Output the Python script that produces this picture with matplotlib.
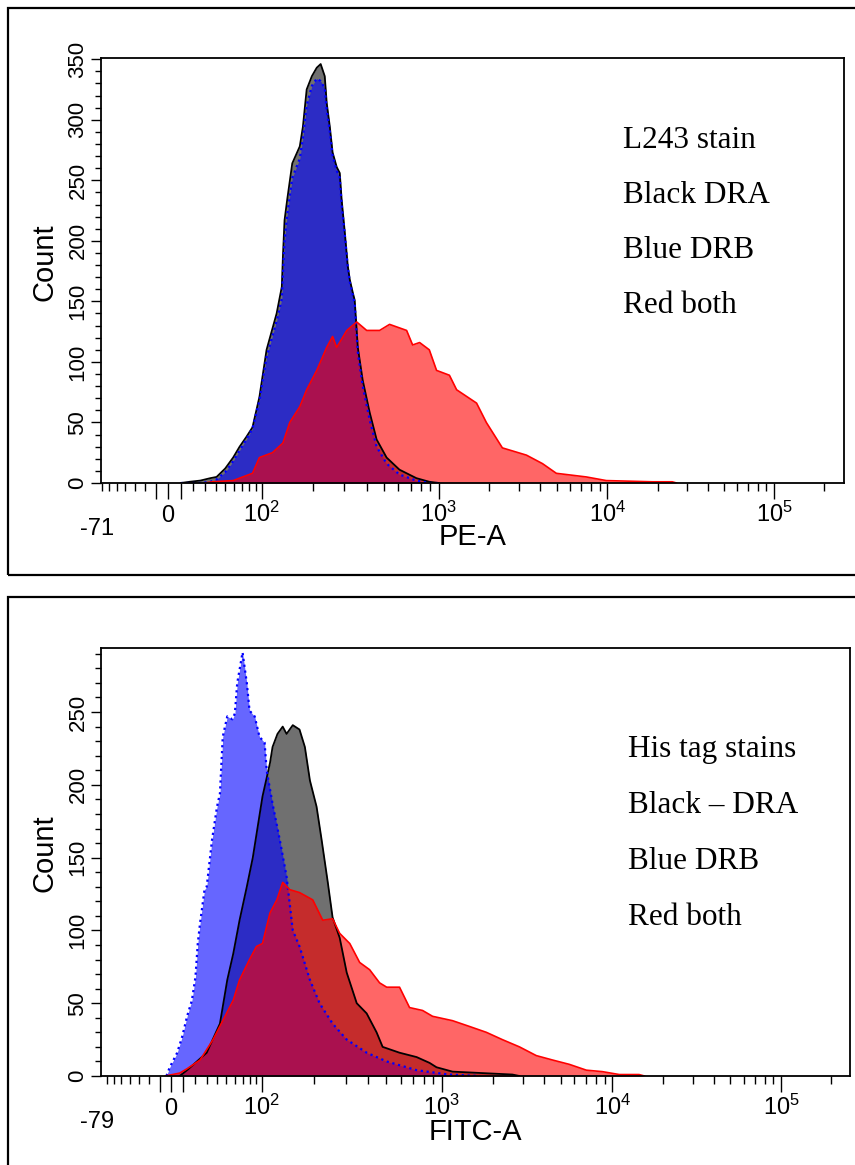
import numpy as np
import matplotlib
matplotlib.use('Agg')
import matplotlib.pyplot as plt
from matplotlib.patches import Rectangle

plt.rcParams['font.family'] = ['Liberation Sans', 'DejaVu Sans']
plt.rcParams['mathtext.default'] = 'regular'

# top panel, PE-A (L243 stain)
pe_dra_x = [10, 17, 26, 35, 41, 50, 59, 67, 76, 85, 96, 107, 123, 132, 134, 137, 142, 152, 168, 175,
            184, 197, 210, 221, 233, 239, 249, 258, 272, 283, 290, 302, 314, 322, 335, 343, 357, 380, 416, 454,
            516, 608, 754, 889, 1000]
pe_dra_y = [0, 1, 2, 4, 5, 12, 21, 30, 38, 46, 71, 110, 140, 162, 187, 217, 234, 264, 278, 294,
            325, 336, 343, 346, 336, 314, 294, 273, 261, 256, 234, 207, 179, 168, 157, 151, 112, 85, 58, 36,
            21, 11, 4, 1, 0]
pe_drb_x = pe_dra_x
pe_drb_y = [0, 0, 0, 1, 3, 9, 18, 27, 36, 45, 68, 104, 134, 152, 172, 200, 222, 252, 268, 285,
            312, 328, 334, 332, 326, 308, 290, 270, 258, 252, 230, 205, 178, 166, 155, 148, 108, 80, 52, 30,
            16, 7, 2, 0, 0]
pe_both_x = [30, 37, 59, 85, 96, 116, 134, 147, 168, 184, 210, 239, 258, 272, 310, 352, 400, 472, 536, 666,
             719, 786, 889, 975, 1160, 1280, 1680, 1920, 2390, 3320, 4130, 4990, 7510, 9860, 18600, 24500, 26000]
pe_both_y = [0, 1, 2, 8, 21, 25, 33, 50, 63, 77, 93, 112, 121, 112, 126, 133, 126, 126, 131, 126,
             114, 116, 110, 93, 89, 77, 66, 50, 29, 23, 16, 8, 5, 2, 1, 1, 0]

# bottom panel, FITC-A (His tag stains)
fitc_dra_x = [7, 13, 30, 43, 51, 58, 66, 76, 85, 101, 112, 116, 124, 133, 140, 152, 166, 178, 190, 207,
              221, 239, 254, 278, 304, 345, 391, 443, 478, 591, 732, 861, 939, 1160, 2600, 2860]
fitc_dra_y = [0, 4, 16, 36, 66, 84, 107, 130, 150, 192, 215, 226, 235, 240, 235, 241, 238, 226, 203, 185,
              162, 133, 109, 95, 71, 50, 43, 30, 20, 16, 13, 9, 6, 3, 1, 0]
fitc_drb_x = [-4, -1, 5, 9, 13, 17, 20, 22, 24, 28, 30, 35, 40, 43, 46, 51, 57, 60, 63, 66,
              70, 76, 80, 88, 96, 104, 107, 116, 128, 140, 152, 166, 190, 215, 254, 304, 391, 503, 732, 1100,
              1670]
fitc_drb_y = [0, 6, 16, 27, 41, 52, 68, 91, 105, 128, 130, 162, 185, 194, 233, 247, 245, 249, 270, 279,
              291, 270, 251, 247, 233, 229, 210, 187, 162, 137, 100, 89, 66, 50, 36, 25, 16, 10, 4, 1,
              0]
fitc_both_x = [-5, 7, 13, 24, 36, 46, 58, 66, 80, 91, 101, 112, 123, 133, 146, 166, 197, 224, 254, 278,
               316, 358, 406, 460, 503, 591, 670, 789, 894, 1160, 1460, 1830, 2270, 2860, 3590, 4460, 5600, 7050, 8740, 11000,
               14400, 15500]
fitc_both_y = [0, 2, 5, 11, 25, 38, 52, 66, 80, 89, 91, 112, 121, 133, 128, 126, 121, 107, 108, 98,
               91, 78, 73, 64, 61, 61, 47, 45, 41, 38, 34, 30, 25, 20, 14, 11, 8, 4, 3, 1,
               1, 0]

pe_notes = ['L243 stain', 'Black DRA', 'Blue DRB', 'Red both']
fitc_notes = ['His tag stains', 'Black \u2013 DRA', 'Blue DRB', 'Red both']

major_x = [-10, 0, 10, 100, 1000, 10000, 100000]
major_lbl = ['', '0', '', '$10^{2}$', '$10^{3}$', '$10^{4}$', '$10^{5}$']
minor_x = (list(range(-70, -10, 10)) + list(range(20, 100, 10)) + list(range(200, 1000, 100))
           + list(range(2000, 10000, 1000)) + list(range(20000, 100000, 10000)) + [200000])


def biex(vals, pos, w=50.0):
    # rough biexponential display: asinh space, pinned to the tick positions
    g = np.arcsinh(np.asarray(vals, float) / w)
    p = np.asarray(pos, float)

    def lin(x, xp, fp):
        x = np.asarray(x, float)
        y = np.interp(x, xp, fp)
        y = np.where(x < xp[0], fp[0] + (x - xp[0]) * (fp[1] - fp[0]) / (xp[1] - xp[0]), y)
        y = np.where(x > xp[-1], fp[-1] + (x - xp[-1]) * (fp[-1] - fp[-2]) / (xp[-1] - xp[-2]), y)
        return y

    fwd = lambda x: lin(np.arcsinh(np.asarray(x, float) / w), g, p)
    inv = lambda q: w * np.sinh(lin(q, p, g))
    return fwd, inv


def hist(ax, x, y, color, alpha, ls, lw):
    ax.fill_between(x, y, 0, color=color, alpha=alpha, lw=0)
    ax.plot(x, y, color=color, ls=ls, lw=lw)


def panel(ax, xmin, anchors, ymax, ymaj, ymin_step, series, notes, note_y, xlabel, label_y):
    fwd, inv = biex([xmin, 0, 100, 1000, 1e4, 1e5, 262144], anchors)
    ax.set_xscale('function', functions=(fwd, inv))
    ax.set_xlim(xmin, 262144)
    ax.set_ylim(0, ymax)

    (ax_, ay_), (bx_, by_), (cx_, cy_) = series
    hist(ax, ax_, ay_, 'black', 0.56, '-', 1.3)
    hist(ax, bx_, by_, 'blue', 0.6, ':', 1.6)
    hist(ax, cx_, cy_, 'red', 0.6, '-', 1.2)

    ax.set_xticks(major_x, major_lbl)
    ax.set_xticks(minor_x, minor=True)
    for t in ax.get_xticklabels():
        t.set_va('baseline')
    ax.tick_params(axis='x', which='major', length=11.5, width=1, pad=16.5, labelsize=17)
    ax.tick_params(axis='x', which='minor', length=6, width=1)

    ax.set_yticks(np.arange(0, ymax, 50))
    ax.set_yticks(np.arange(0, ymax, ymin_step), minor=True)
    ax.tick_params(axis='y', which='major', length=7, width=1, pad=2, labelrotation=90)
    ax.tick_params(axis='y', which='minor', length=4.3, width=1)
    for t in ax.get_yticklabels():
        t.set_fontfamily(['Liberation Sans Narrow', 'Liberation Sans'])
        t.set_fontsize(16)
        t.set_va('center')

    for s in ax.spines.values():
        s.set_linewidth(1.3)

    ax.annotate(str(xmin), xy=(xmin, 0), xycoords=('data', 'axes fraction'),
                xytext=(-4, -46), textcoords='offset pixels', ha='center', va='center', fontsize=17)
    ax.text(0.5, label_y, xlabel, transform=ax.transAxes, ha='center', va='center', fontsize=21)
    ax.text(-0.0754, 0.52, 'Count', transform=ax.transAxes, ha='center', va='center',
            rotation=90, fontsize=21)
    for s, yy in zip(notes, note_y):
        ax.text(0.703, yy, s, transform=ax.transAxes, ha='left', va='baseline',
                fontsize=22.5, family=['Liberation Serif', 'DejaVu Serif'])


fig = plt.figure(figsize=(8.55, 11.65), dpi=100)

ax1 = fig.add_axes([101 / 855, 1 - 483 / 1165, 743 / 855, 425 / 1165])
panel(ax1, -71, [101, 168, 262, 439, 608, 775, 845], 351, 50, 10,
      [(pe_dra_x, pe_dra_y), (pe_drb_x, pe_drb_y), (pe_both_x, pe_both_y)],
      pe_notes, [0.788, 0.659, 0.529, 0.40], 'PE-A', -0.127)

ax2 = fig.add_axes([101 / 855, 1 - 1076 / 1165, 749 / 855, 428 / 1165])
panel(ax2, -79, [101, 171, 262, 442, 613, 782, 851], 294, 50, 10,
      [(fitc_dra_x, fitc_dra_y), (fitc_drb_x, fitc_drb_y), (fitc_both_x, fitc_both_y)],
      fitc_notes, [0.745, 0.614, 0.484, 0.353], 'FITC-A', -0.131)

# outer boxes round each panel, open past the right and bottom edge of the picture
fig.patches.append(Rectangle((8 / 855, 1 - 575 / 1165), 1.1, 567 / 1165, transform=fig.transFigure,
                             fill=False, lw=1.6, ec='black'))
fig.patches.append(Rectangle((8 / 855, -0.1), 1.1, 1 - 597 / 1165 + 0.1, transform=fig.transFigure,
                             fill=False, lw=1.6, ec='black'))

fig.savefig('out.png', dpi=100)
